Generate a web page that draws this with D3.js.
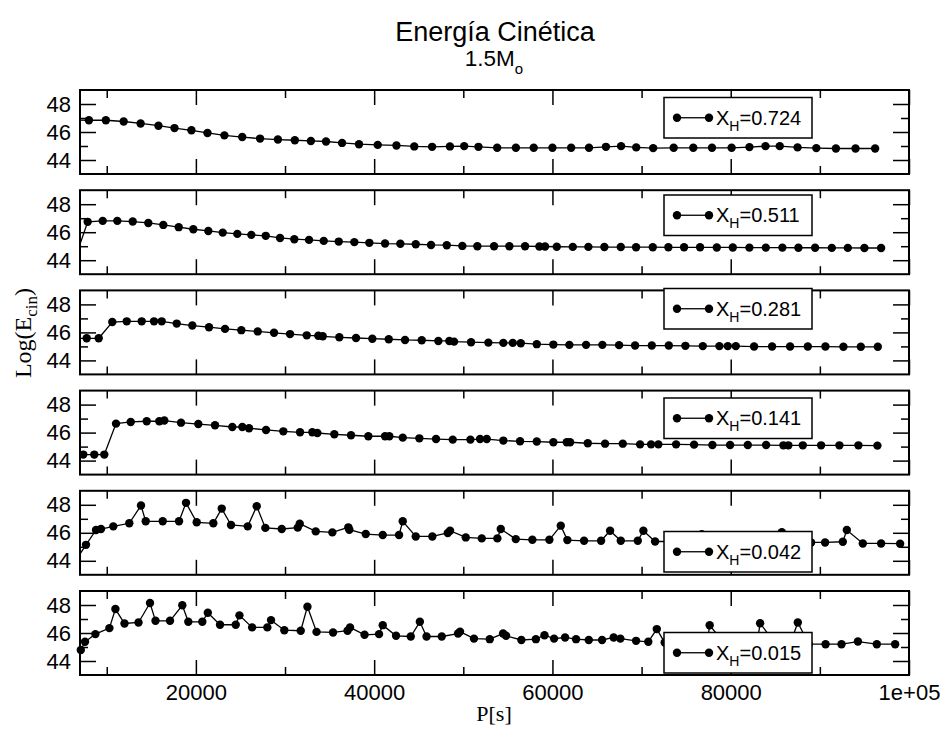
<!DOCTYPE html>
<html>
<head>
<meta charset="utf-8">
<script src="https://cdn.jsdelivr.net/npm/d3@7"></script>
<style>
  body { margin: 0; background: #fff; }
  svg { display: block; }
</style>
</head>
<body>
<svg id="chart" width="948" height="734"></svg>
<script>
// hydrogen fraction of each model, top to bottom
const xh = ["0.724", "0.511", "0.281", "0.141", "0.042", "0.015"];

// periods P[s] and Log(E_cin) per model
const p1 = [6000, 8000, 9900, 11900, 13800, 15800, 17600, 19500, 21300, 23200, 25200, 27200, 29200, 31100, 32900, 34600, 36400, 38300, 40400, 42500, 44500, 46500, 48500, 50100, 51700, 53800, 55900, 57900, 60000, 62100, 64100, 66000, 67700, 69400, 71300, 73600, 75800, 77900, 80100, 82100, 83900, 85500, 87500, 89600, 91800, 94000, 96200];
const e1 = [46.85, 46.84, 46.84, 46.75, 46.61, 46.45, 46.28, 46.12, 45.93, 45.76, 45.64, 45.53, 45.46, 45.41, 45.36, 45.32, 45.22, 45.13, 45.08, 45.04, 44.97, 44.94, 44.97, 44.99, 44.94, 44.87, 44.87, 44.87, 44.87, 44.87, 44.87, 44.94, 44.99, 44.90, 44.85, 44.87, 44.87, 44.87, 44.87, 44.92, 44.99, 44.99, 44.90, 44.85, 44.82, 44.82, 44.82];

const p2 = [6650, 7864, 9547, 11185, 12913, 14663, 16346, 18074, 19712, 21395, 23011, 24649, 26220, 27836, 29440, 31044, 32694, 34343, 36026, 37776, 39459, 41221, 42938, 44666, 46382, 48144, 49894, 51577, 53451, 55167, 56929, 58533, 59173, 60486, 62281, 64031, 65826, 67667, 69383, 71257, 73007, 74769, 76564, 78438, 80233, 82095, 83936, 85798, 87593, 89467, 91341, 93136, 94998, 96872];
const e2 = [44.5, 46.74, 46.81, 46.81, 46.76, 46.66, 46.52, 46.36, 46.21, 46.09, 45.97, 45.88, 45.81, 45.74, 45.59, 45.5, 45.45, 45.38, 45.33, 45.29, 45.24, 45.19, 45.17, 45.14, 45.09, 45.07, 45.02, 45.0, 45.0, 45.0, 45.0, 44.98, 44.98, 44.96, 44.95, 44.95, 44.94, 44.94, 44.93, 44.93, 44.92, 44.92, 44.92, 44.91, 44.91, 44.9, 44.9, 44.9, 44.89, 44.89, 44.88, 44.88, 44.87, 44.87];

const p3 = [6000, 7752, 9098, 10624, 12240, 13923, 15303, 16167, 17850, 19600, 21474, 23269, 25098, 26938, 28767, 30562, 32436, 33737, 34231, 36093, 37967, 39796, 41636, 43465, 45339, 47201, 48435, 48963, 50870, 52811, 54494, 55549, 56447, 58242, 60104, 61899, 63773, 65602, 67476, 69271, 71145, 73052, 74915, 76867, 78729, 79672, 80570, 82623, 84642, 86662, 88648, 90623, 92642, 94595, 96502];
const e3 = [45.58, 45.58, 45.58, 46.74, 46.79, 46.79, 46.79, 46.79, 46.63, 46.49, 46.37, 46.25, 46.16, 46.07, 45.97, 45.88, 45.79, 45.76, 45.72, 45.65, 45.6, 45.55, 45.51, 45.46, 45.44, 45.39, 45.39, 45.34, 45.3, 45.27, 45.25, 45.25, 45.23, 45.16, 45.13, 45.11, 45.11, 45.11, 45.09, 45.06, 45.06, 45.06, 45.04, 45.02, 45.02, 45.02, 45.02, 44.99, 44.99, 44.99, 44.99, 44.99, 44.97, 44.97, 44.97];

const p4 = [6000, 7370, 8604, 9726, 11039, 12689, 14484, 15897, 16458, 18332, 20273, 22147, 24088, 25210, 25962, 27869, 29810, 31684, 33064, 33625, 35532, 37406, 39347, 41221, 41703, 43207, 45069, 46943, 48817, 50800, 51880, 52632, 54494, 56368, 58242, 60104, 61608, 61978, 63964, 65905, 67891, 69832, 71066, 71885, 73871, 75891, 77944, 79930, 81916, 83969, 85910, 86471, 88087, 90140, 92193, 94325, 96457];
const e4 = [44.43, 44.43, 44.43, 44.43, 46.64, 46.76, 46.81, 46.81, 46.86, 46.71, 46.61, 46.52, 46.4, 46.4, 46.31, 46.19, 46.09, 46.02, 46.02, 45.97, 45.88, 45.81, 45.74, 45.74, 45.74, 45.64, 45.59, 45.54, 45.5, 45.5, 45.54, 45.54, 45.43, 45.38, 45.36, 45.31, 45.31, 45.31, 45.24, 45.21, 45.21, 45.16, 45.16, 45.16, 45.16, 45.14, 45.11, 45.11, 45.11, 45.11, 45.09, 45.09, 45.09, 45.09, 45.09, 45.09, 45.07];

const p5 = [6500, 7673, 8795, 9356, 10736, 12531, 13844, 14372, 16279, 18108, 18893, 20094, 21956, 22899, 23942, 25816, 26826, 27791, 29631, 31426, 31650, 33446, 35308, 37103, 37215, 39056, 40963, 42792, 43207, 44666, 46528, 48256, 48514, 50276, 52071, 53821, 54203, 55886, 57748, 59655, 60935, 61675, 63549, 65456, 66466, 67667, 69574, 70202, 71515, 73422, 75330, 76564, 76755, 78584, 80491, 82398, 84306, 85540, 85731, 87447, 89018, 90589, 92575, 93024, 94819, 96872, 99004];
const e5 = [44.0, 45.14, 46.2, 46.27, 46.46, 46.68, 47.95, 46.82, 46.82, 46.82, 48.14, 46.75, 46.68, 47.73, 46.56, 46.46, 47.9, 46.35, 46.27, 46.37, 46.65, 46.1, 46.03, 46.39, 46.22, 45.91, 45.84, 45.84, 46.82, 45.74, 45.74, 45.99, 46.15, 45.67, 45.6, 45.6, 46.27, 45.55, 45.5, 45.5, 46.51, 45.48, 45.43, 45.43, 46.15, 45.43, 45.43, 46.15, 45.38, 45.38, 45.35, 45.35, 45.9, 45.33, 45.33, 45.33, 45.32, 45.32, 46.05, 45.31, 45.31, 45.31, 45.36, 46.2, 45.24, 45.24, 45.22];

const p6 = [7090, 7561, 8728, 10299, 10972, 11993, 13564, 14854, 15471, 17098, 18478, 19151, 20722, 21339, 22708, 24470, 24885, 26310, 28015, 28430, 29922, 31763, 32514, 33535, 35387, 37014, 37294, 38921, 40548, 40963, 42455, 44105, 45126, 45877, 47583, 49412, 49636, 51196, 52969, 54461, 54798, 56514, 58141, 59106, 60183, 61417, 62651, 64076, 65568, 66870, 67622, 69383, 70752, 71706, 72592, 74320, 76003, 77349, 77641, 79257, 81052, 82959, 83296, 84979, 86662, 87526, 88760, 90640, 92429, 94269, 96390, 98443];
const e6 = [44.79, 45.37, 45.92, 46.35, 47.71, 46.68, 46.75, 48.14, 46.87, 46.87, 47.98, 46.8, 46.8, 47.45, 46.59, 46.59, 47.26, 46.4, 46.4, 46.92, 46.2, 46.16, 47.88, 46.08, 46.04, 46.16, 46.4, 45.87, 45.92, 46.56, 45.8, 45.75, 46.8, 45.75, 45.75, 45.96, 46.1, 45.6, 45.56, 45.96, 45.8, 45.5, 45.56, 45.84, 45.6, 45.68, 45.56, 45.5, 45.5, 45.68, 45.6, 45.44, 45.37, 46.28, 45.32, 45.3, 45.3, 45.3, 46.55, 45.3, 45.25, 45.25, 46.7, 45.25, 45.2, 46.75, 45.2, 45.2, 45.2, 45.39, 45.2, 45.2];

const periods = [p1, p2, p3, p4, p5, p6];
const energies = [e1, e2, e3, e4, e5, e6];

const xMajor = [20000, 40000, 60000, 80000, 100000];
const xMinor = [10000, 30000, 50000, 70000, 90000];
const yMajor = [44, 46, 48];
const yMinor = [45, 47];

// layout
const left = 80, right = 909;
const panelH = 84, panelStep = 100.2, firstTop = 90;
const legendTops = [97.5, 195, 288.5, 398, 531.5, 632.5];
const legendX = 664, legendW = 148, legendH = 40.5;

const svg = d3.select("#chart");

const x = d3.scaleLinear().domain([7000, 100000]).range([left, right]);
const fmtX = d => d >= 100000 ? "1e+05" : String(d);
const fmtY = d3.format("d");

svg.append("text")
    .attr("x", 495).attr("y", 41)
    .attr("text-anchor", "middle")
    .style("font", "27px 'Liberation Sans', Arial, sans-serif")
    .text("Energía Cinética");

const sub = svg.append("text")
    .attr("x", 494).attr("y", 66)
    .attr("text-anchor", "middle")
    .style("font", "22.5px 'Liberation Sans', Arial, sans-serif");
sub.append("tspan").text("1.5M");
sub.append("tspan").attr("dy", 8).style("font-size", "15px").text("o");

function styleAxis(g) {
    g.select(".domain").remove();
    g.selectAll(".tick line").attr("stroke", "#000").attr("stroke-width", 1.5);
    g.selectAll(".tick text")
        .attr("fill", "#000")
        .style("font", "22px 'Liberation Sans', Arial, sans-serif");
}

periods.forEach((p, i) => {
    const top = firstTop + i * panelStep;
    const bottom = top + panelH;
    const y = d3.scaleLinear().domain([43, 49]).range([bottom, top]);
    const n = Math.min(p.length, energies[i].length);
    const pts = d3.range(n).map(k => [p[k], energies[i][k]]);

    const g = svg.append("g");

    svg.append("clipPath").attr("id", "clip" + i)
        .append("rect")
        .attr("x", left).attr("y", top)
        .attr("width", right - left).attr("height", panelH);

    // ticks on all four sides, pointing inward
    const lastPanel = i === periods.length - 1;
    g.append("g").attr("transform", `translate(0,${bottom})`)
        .call(d3.axisBottom(x).tickValues(xMajor).tickSize(-15).tickPadding(9)
            .tickFormat(lastPanel ? fmtX : ""))
        .call(styleAxis);
    g.append("g").attr("transform", `translate(0,${bottom})`)
        .call(d3.axisBottom(x).tickValues(xMinor).tickSize(-8).tickFormat(""))
        .call(styleAxis);
    g.append("g").attr("transform", `translate(0,${top})`)
        .call(d3.axisTop(x).tickValues(xMajor).tickSize(-15).tickFormat(""))
        .call(styleAxis);
    g.append("g").attr("transform", `translate(0,${top})`)
        .call(d3.axisTop(x).tickValues(xMinor).tickSize(-8).tickFormat(""))
        .call(styleAxis);
    g.append("g").attr("transform", `translate(${left},0)`)
        .call(d3.axisLeft(y).tickValues(yMajor).tickSize(-16).tickPadding(9).tickFormat(fmtY))
        .call(styleAxis);
    g.append("g").attr("transform", `translate(${left},0)`)
        .call(d3.axisLeft(y).tickValues(yMinor).tickSize(-8).tickFormat(""))
        .call(styleAxis);
    g.append("g").attr("transform", `translate(${right},0)`)
        .call(d3.axisRight(y).tickValues(yMajor).tickSize(-16).tickFormat(""))
        .call(styleAxis);
    g.append("g").attr("transform", `translate(${right},0)`)
        .call(d3.axisRight(y).tickValues(yMinor).tickSize(-8).tickFormat(""))
        .call(styleAxis);

    const line = d3.line().x(d => x(d[0])).y(d => y(d[1]));
    g.append("path")
        .datum(pts)
        .attr("clip-path", `url(#clip${i})`)
        .attr("fill", "none")
        .attr("stroke", "#000")
        .attr("stroke-width", 1.3)
        .attr("d", line);

    g.selectAll("circle.pt")
        .data(pts.filter(d => d[0] >= 7000 && d[0] <= 100000))
        .join("circle")
        .attr("class", "pt")
        .attr("cx", d => x(d[0]))
        .attr("cy", d => y(d[1]))
        .attr("r", 4.2)
        .attr("fill", "#000");

    g.append("rect")
        .attr("x", left).attr("y", top)
        .attr("width", right - left).attr("height", panelH)
        .attr("fill", "none")
        .attr("stroke", "#000")
        .attr("stroke-width", 2);

    // legend
    const lt = legendTops[i];
    const cy = lt + legendH / 2;
    const lg = g.append("g");
    lg.append("rect")
        .attr("x", legendX).attr("y", lt)
        .attr("width", legendW).attr("height", legendH)
        .attr("fill", "#fff").attr("stroke", "#000").attr("stroke-width", 1.5);
    lg.append("line")
        .attr("x1", legendX + 13).attr("x2", legendX + 45)
        .attr("y1", cy).attr("y2", cy)
        .attr("stroke", "#000").attr("stroke-width", 1.3);
    lg.selectAll("circle")
        .data([legendX + 13, legendX + 45])
        .join("circle")
        .attr("cx", d => d).attr("cy", cy).attr("r", 4.2).attr("fill", "#000");
    const t = lg.append("text")
        .attr("x", legendX + 52).attr("y", cy + 7)
        .style("font", "20px 'Liberation Sans', Arial, sans-serif");
    t.append("tspan").text("X");
    t.append("tspan").attr("dy", 6).style("font-size", "14px").text("H");
    t.append("tspan").attr("dy", -6).text("=" + xh[i]);
});

// axis titles
svg.append("text")
    .attr("x", 494).attr("y", 721)
    .attr("text-anchor", "middle")
    .style("font", "22px 'Liberation Serif', 'Times New Roman', serif")
    .text("P[s]");

const yl = svg.append("text")
    .attr("transform", "translate(31,333) rotate(-90)")
    .attr("text-anchor", "middle")
    .style("font", "24px 'Liberation Serif', 'Times New Roman', serif");
yl.append("tspan").text("Log(E");
yl.append("tspan").attr("dy", 6).style("font-size", "17px").text("cin");
yl.append("tspan").attr("dy", -6).text(")");
</script>
</body>
</html>
